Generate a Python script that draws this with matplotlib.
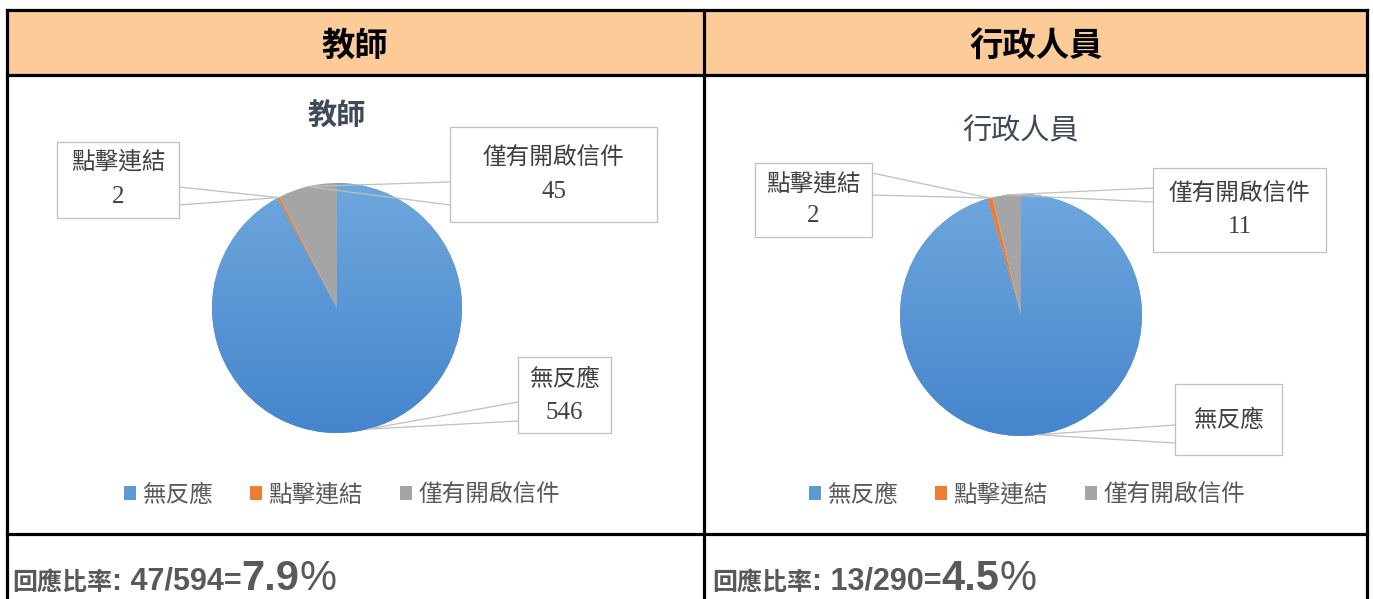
import numpy as np
import matplotlib.pyplot as plt
from matplotlib.patches import Rectangle
from matplotlib.colors import LinearSegmentedColormap

plt.rcParams['font.family'] = ['Noto Sans CJK TC', 'DejaVu Sans']

# data
categories = ['無反應', '點擊連結', '僅有開啟信件']
teacher_values = [546, 2, 45]
admin_values = [277, 2, 11]
panel_titles = ['教師', '行政人員']
teacher_rate = ('47/594=', '7.9')
admin_rate = ('13/290=', '4.5')
colors = ['#5B9BD5', '#ED7D31', '#A5A5A5']

W, H = 1373, 599
fig = plt.figure(figsize=(W / 100, H / 100), dpi=100)

# overlay axes in pixel coordinates (table, callouts, texts)
ov = fig.add_axes([0, 0, 1, 1], zorder=3)
ov.set_xlim(0, W)
ov.set_ylim(H, 0)
ov.axis('off')
ov.patch.set_alpha(0)

# table
ov.add_patch(Rectangle((7, 10), 1360, 65, facecolor='#FDCB98', edgecolor='none', zorder=0))
lw = 2.3
ov.plot([7, 1367], [10, 10], color='black', lw=lw, solid_capstyle='projecting')
ov.plot([7, 1367], [75, 75], color='black', lw=lw)
ov.plot([7, 1367], [534, 534], color='black', lw=lw)
for x in (7, 704, 1367):
    ov.plot([x, x], [10, H + 5], color='black', lw=lw, solid_capstyle='projecting')

ov.text(355, 46, panel_titles[0], ha='center', va='center', fontsize=24, weight='bold', color='black')
ov.text(1036, 46, panel_titles[1], ha='center', va='center', fontsize=24, weight='bold', color='black')


def make_pie(cx, cy, r, values):
    ax = fig.add_axes([(cx - r) / W, 1 - (cy + r) / H, 2 * r / W, 2 * r / H], zorder=2)
    wedges, _ = ax.pie(values, colors=colors, startangle=90, counterclock=False,
                       radius=1, wedgeprops=dict(linewidth=0))
    grad = np.linspace(0, 1, 256).reshape(-1, 1)
    cmap = LinearSegmentedColormap.from_list('blu', ['#6EA7DD', '#4585CC'])
    im = ax.imshow(grad, extent=(-1, 1, -1, 1), cmap=cmap, aspect='auto', zorder=1.5)
    im.set_clip_path(wedges[0])
    ax.set_xlim(-1, 1)
    ax.set_ylim(-1, 1)
    ax.set_aspect('equal')
    ax.axis('off')
    return ax, wedges


def wedge_point(ax, w):
    th = np.deg2rad((w.theta1 + w.theta2) / 2)
    p = (w.center[0] + w.r * np.cos(th), w.center[1] + w.r * np.sin(th))
    return ov.transData.inverted().transform(ax.transData.transform(p))


def callout(ax, w, box, side, ays, lines):
    x0, y0, x1, y1 = box
    ov.add_patch(Rectangle((x0, y0), x1 - x0, y1 - y0, facecolor='white',
                           edgecolor='#BFBFBF', lw=0.9, zorder=2))
    px, py = wedge_point(ax, w)
    bx = x0 if side == 'left' else x1
    for ay in ays:
        ov.plot([bx, px], [ay, py], color='#BFBFBF', lw=0.9, zorder=1)
    xc = (x0 + x1) / 2
    for i, (s, yy) in enumerate(lines):
        fam = ['Liberation Serif'] if i == 1 else ['Noto Sans CJK TC', 'DejaVu Sans']
        ov.text(xc, yy, s, ha='center', va='center', fontsize=17 if i == 0 else 18,
                color='#404040', family=fam, zorder=3)


def rate_line(x, y, frac, pct):
    parts = [('回應比率', dict(family=['Noto Sans CJK TC'], weight='bold', size=18)),
             (': ' + frac, dict(family=['Liberation Sans'], weight='bold', size=22)),
             (pct, dict(family=['Liberation Sans'], weight='bold', size=30)),
             ('%', dict(family=['Liberation Sans'], size=30))]
    rend = fig.canvas.get_renderer()
    for s, kw in parts:
        t = ov.text(x, y, s, ha='left', va='baseline', color='#595959', **kw)
        x += t.get_window_extent(renderer=rend).width


def legend(wedges, cx):
    leg = fig.legend(wedges, categories, loc='center', bbox_to_anchor=(cx / W, 1 - 495 / H),
                     ncol=3, frameon=False, handlelength=0.5, handleheight=0.5,
                     handletextpad=0.25, columnspacing=1.6, fontsize=17, labelcolor='#595959')
    return leg


# teacher panel
ax1, w1 = make_pie(337, 308, 125, teacher_values)
ov.text(337, 116, '教師', ha='center', va='center', fontsize=21, weight='bold', color='#3E4A5A')
callout(ax1, w1[0], (518, 357, 611, 433), 'left', (402, 421),
        [(categories[0], 379), (str(teacher_values[0]), 413)])
callout(ax1, w1[1], (57, 142, 179, 218), 'right', (187, 205),
        [(categories[1], 162), (str(teacher_values[1]), 197)])
callout(ax1, w1[2], (450, 127, 657, 222), 'left', (182, 205),
        [(categories[2], 158), (str(teacher_values[2]), 192)])
legend(w1, 342)
rate_line(12, 590, *teacher_rate)

# admin panel
ax2, w2 = make_pie(1021, 315, 121, admin_values)
ov.text(1021, 131, '行政人員', ha='center', va='center', fontsize=21, color='#3E4A5A')
callout(ax2, w2[0], (1175, 384, 1282, 455), 'left', (425, 443),
        [(categories[0], 420)])
callout(ax2, w2[1], (755, 163, 872, 237), 'right', (173, 195),
        [(categories[1], 184), (str(admin_values[1]), 216)])
callout(ax2, w2[2], (1153, 168, 1326, 252), 'left', (188, 202),
        [(categories[2], 194), (str(admin_values[2]), 227)])
legend(w2, 1027)
rate_line(712, 590, *admin_rate)

fig.savefig('out.png', dpi=100)
